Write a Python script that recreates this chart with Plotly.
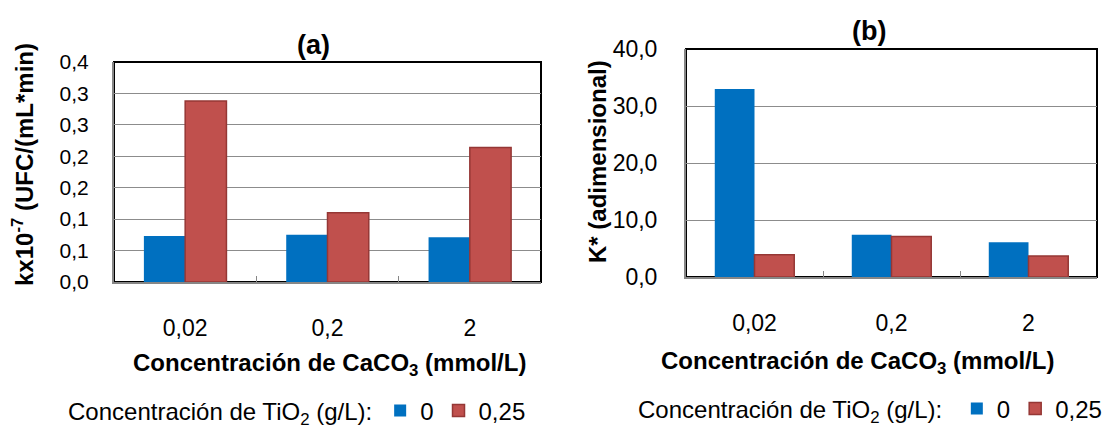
import plotly.graph_objects as go

# CaCO3 concentration categories (mmol/L)
categories = ["0,02", "0,2", "2"]

# Panel (a): kx10^-7 (UFC/(mL*min))
k_tio2_0 = [0.073, 0.075, 0.071]
k_tio2_025 = [0.288, 0.110, 0.214]

# Panel (b): K* (adimensional)
kstar_tio2_0 = [33.0, 7.4, 6.1]
kstar_tio2_025 = [3.9, 7.1, 3.7]

# Axis ticks
ticks_a = [0, 0.05, 0.10, 0.15, 0.20, 0.25, 0.30, 0.35]
ticklabels_a = ["0,0", "0,1", "0,1", "0,2", "0,2", "0,3", "0,3", "0,4"]
ticks_b = [0, 10, 20, 30, 40]
ticklabels_b = ["0,0", "10,0", "20,0", "30,0", "40,0"]

series_names = ["0", "0,25"]

W, H = 1103, 429
BLUE = "#0070C0"
RED = "#C0504D"
RED_EDGE = "#953735"
GRID = "#8C8C8C"
FONT = "Liberation Sans, Arial, sans-serif"


def px(x):
    return x / W


def py(y):
    return 1 - y / H


# plot areas in pixels (left, top, right, bottom)
area_a = (114, 62, 541, 282)
area_b = (686, 49, 1097, 277)

fig = go.Figure()

fig.add_trace(go.Bar(x=categories, y=k_tio2_0, name=series_names[0],
                     marker=dict(color=BLUE, line=dict(width=0)),
                     xaxis="x", yaxis="y", legend="legend"))
fig.add_trace(go.Bar(x=categories, y=k_tio2_025, name=series_names[1],
                     marker=dict(color=RED, line=dict(color=RED_EDGE, width=1.5)),
                     xaxis="x", yaxis="y", legend="legend"))
fig.add_trace(go.Bar(x=categories, y=kstar_tio2_0, name=series_names[0],
                     marker=dict(color=BLUE, line=dict(width=0)),
                     xaxis="x2", yaxis="y2", legend="legend2"))
fig.add_trace(go.Bar(x=categories, y=kstar_tio2_025, name=series_names[1],
                     marker=dict(color=RED, line=dict(color=RED_EDGE, width=1.5)),
                     xaxis="x2", yaxis="y2", legend="legend2"))


def xaxis_cfg(area):
    return dict(
        domain=[px(area[0]), px(area[2])],
        type="category",
        showline=True, linecolor="#868686", linewidth=2,
        ticks="inside", tickson="boundaries", ticklen=6,
        tickcolor="#868686", tickwidth=1,
        ticklabelstandoff=24,
        tickfont=dict(family=FONT, size=23, color="#000000"),
        showgrid=False, zeroline=False, fixedrange=True,
    )


def yaxis_cfg(area, rng, vals, texts, size, standoff):
    return dict(
        domain=[py(area[3]), py(area[1])],
        range=rng,
        tickmode="array", tickvals=vals, ticktext=texts,
        showline=True, linecolor="#868686", linewidth=2,
        ticks="", ticklabelstandoff=standoff,
        tickfont=dict(family=FONT, size=size, color="#000000"),
        showgrid=True, gridcolor=GRID, gridwidth=1,
        zeroline=False, fixedrange=True,
    )


legend_common = dict(
    orientation="h",
    yanchor="middle",
    xanchor="left",
    font=dict(family=FONT, size=24, color="#000000"),
    bgcolor="rgba(0,0,0,0)",
    itemclick=False, itemdoubleclick=False,
    traceorder="normal",
)

fig.update_layout(
    width=W, height=H,
    margin=dict(l=0, r=0, t=0, b=0, autoexpand=False),
    paper_bgcolor="#FFFFFF",
    plot_bgcolor="#FFFFFF",
    barmode="group",
    bargap=0.42,
    bargroupgap=0,
    font=dict(family=FONT, color="#000000"),
    xaxis=dict(xaxis_cfg(area_a), anchor="y"),
    yaxis=dict(yaxis_cfg(area_a, [0, 0.35], ticks_a, ticklabels_a, 21, 19), anchor="x"),
    xaxis2=dict(xaxis_cfg(area_b), anchor="y2"),
    yaxis2=dict(yaxis_cfg(area_b, [0, 40], ticks_b, ticklabels_b, 23, 22), anchor="x2"),
    legend=dict(legend_common, x=px(66), y=py(411),
                title=dict(text="Concentración de TiO<sub>2</sub> (g/L):", side="left",
                           font=dict(family=FONT, size=24))),
    legend2=dict(legend_common, x=px(636), y=py(409),
                 title=dict(text="Concentración de TiO<sub>2</sub> (g/L):\u00a0",
                            side="left", font=dict(family=FONT, size=24))),
    showlegend=True,
)

# plot-area frames
for area in (area_a, area_b):
    fig.add_shape(type="rect", xref="paper", yref="paper",
                  x0=px(area[0]), x1=px(area[2]), y0=py(area[3]), y1=py(area[1]),
                  line=dict(color="#000000", width=2), layer="below")

bold = dict(family=FONT, size=24, color="#000000")
annotations = [
    dict(text="<b>(a)</b>", x=px(313), y=py(45), font=dict(family=FONT, size=27)),
    dict(text="<b>(b)</b>", x=px(869), y=py(31), font=dict(family=FONT, size=27)),
    dict(text="<b>Concentración de CaCO<sub>3</sub> (mmol/L)</b>", x=px(329), y=py(364), font=bold),
    dict(text="<b>Concentración de CaCO<sub>3</sub> (mmol/L)</b>", x=px(857), y=py(362), font=bold),
    dict(text="<b>kx10<sup>-7</sup> (UFC/(mL*min)</b>", x=px(23), y=py(165), textangle=-90, font=bold),
    dict(text="<b>K* (adimensional)</b>", x=px(597), y=py(162), textangle=-90, font=bold),
]
for a in annotations:
    fig.add_annotation(xref="paper", yref="paper", showarrow=False,
                       xanchor="center", yanchor="middle", **a)

fig.write_html("out.html")
